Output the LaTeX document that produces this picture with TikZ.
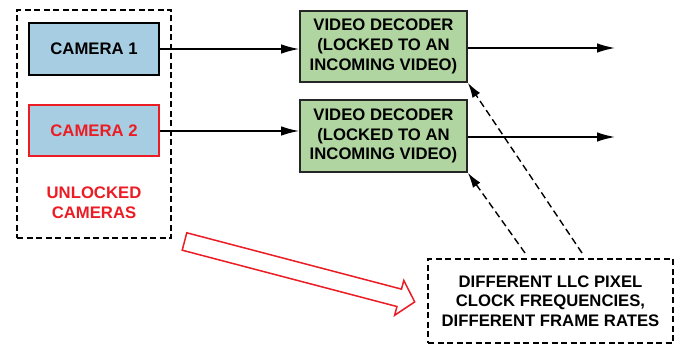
\documentclass[tikz,border=0pt]{standalone}
\usepackage{fontspec}
\setmainfont{Liberation Sans}
\usetikzlibrary{arrows.meta}
\definecolor{camblue}{HTML}{A6CDE2}
\definecolor{decgreen}{HTML}{B0D5A0}
\definecolor{alertred}{HTML}{EC1C24}
\begin{document}
\begin{tikzpicture}[x=1pt,y=-1pt,
  every node/.style={font=\fontsize{16.7}{19.7}\selectfont\bfseries, align=center, inner sep=0pt},
  cambox/.style={draw=black, fill=camblue, line width=1.8pt, minimum width=130pt, minimum height=52pt},
  decbox/.style={draw=black!85, fill=decgreen, line width=1.8pt, minimum width=167pt, minimum height=71pt},
  groupbox/.style={draw=black, line width=1.5pt, dash pattern=on 6pt off 3.5pt},
  sig/.style={line width=1.4pt, -{Latex[length=18pt,width=9.5pt]}},
  clk/.style={line width=1.4pt, dash pattern=on 7pt off 4pt, -{Latex[length=15pt,width=9pt]}}
]
\useasboundingbox (0,0) rectangle (680,345);

% unlocked camera group
\node[groupbox, minimum width=154pt, minimum height=228pt] (group) at (94,124) {};
\node[cambox] (cam1) at (94,49) {CAMERA 1};
\node[cambox, draw=alertred, text=alertred, minimum height=51pt] (cam2) at (94,130.5) {CAMERA 2};
\node[text=alertred] (unlocked) at (94,202.5) {UNLOCKED\\CAMERAS};

% decoders
\node[decbox] (dec1) at (383.5,46.5) {VIDEO DECODER\\(LOCKED TO AN\\INCOMING VIDEO)};
\node[decbox, minimum height=72pt] (dec2) at (383.5,136) {VIDEO DECODER\\(LOCKED TO AN\\INCOMING VIDEO)};

% note box
\node[groupbox, minimum width=245pt, minimum height=84pt] (note) at (550.5,301)
  {DIFFERENT LLC PIXEL\\CLOCK FREQUENCIES,\\DIFFERENT FRAME RATES};

% video paths
\draw[sig] (cam1.east |- 0,49) -- (dec1.west |- 0,49);
\draw[sig] (cam2.east |- 0,131) -- (dec2.west |- 0,131);
\coordinate (out1) at (615,48);
\coordinate (out2) at (615,137);
\draw[sig] (dec1.east |- out1) -- (out1);
\draw[sig] (dec2.east |- out2) -- (out2);

% clock paths from the note
\coordinate (clk1) at (582,253);
\coordinate (clk2) at (525,253);
\draw[clk] (clk1) -- (dec1.south east);
\draw[clk] (clk2) -- (dec2.south east);

% hollow red pointer
\begin{scope}[shift={(184.5,241.5)}, rotate=-14.7]
  \draw[alertred, line width=1.5pt, fill=white, line join=miter]
    (0,9) -- (222,9) -- (222,18) -- (238,0) -- (222,-18) -- (222,-9) -- (0,-9) -- cycle;
\end{scope}
\end{tikzpicture}
\end{document}
